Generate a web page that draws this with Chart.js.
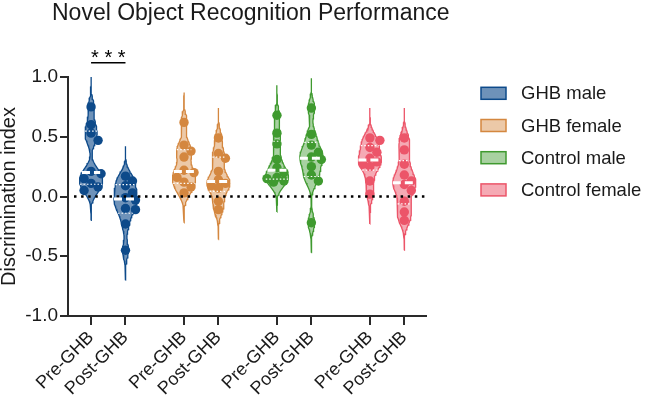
<!DOCTYPE html>
<html><head><meta charset="utf-8">
<script src="https://cdn.jsdelivr.net/npm/chart.js@4.4.1/dist/chart.umd.min.js"></script>
<style>html,body{margin:0;padding:0;background:#fff}</style>
</head><body>
<canvas id="c" width="645" height="400"></canvas>
<script>
// ---------- data ----------
const chartTitle = 'Novel Object Recognition Performance';
const yAxisTitle = 'Discrimination index';
const groups = ['GHB male', 'GHB female', 'Control male', 'Control female'];
const conditions = ['Pre-GHB', 'Post-GHB'];
const yTickValues = [-1.0, -0.5, 0.0, 0.5, 1.0];
const sigLabel = '* * *';

const ghbMalePre       = [0.75, 0.60, 0.53, 0.47, 0.21, 0.19, 0.15, 0.11, 0.08, 0.05];
const ghbMalePost      = [0.17, 0.13, 0.09, 0.03, -0.01, -0.03, -0.10, -0.11, -0.23, -0.45];
const ghbFemalePre     = [0.62, 0.43, 0.38, 0.33, 0.22, 0.20, 0.16, 0.12, 0.08, 0.03];
const ghbFemalePost    = [0.49, 0.36, 0.32, 0.21, 0.14, 0.11, 0.09, 0.07, -0.04, -0.11];
const controlMalePre   = [0.68, 0.53, 0.44, 0.31, 0.24, 0.20, 0.16, 0.15, 0.13, 0.12];
const controlMalePost  = [0.74, 0.52, 0.43, 0.37, 0.33, 0.31, 0.25, 0.18, 0.13, -0.22];
const controlFemalePre = [0.49, 0.47, 0.41, 0.37, 0.32, 0.29, 0.27, 0.25, 0.13, 0.02];
const controlFemalePost= [0.49, 0.39, 0.27, 0.18, 0.13, 0.10, 0.05, -0.04, -0.13, -0.20];

const seriesValues = [
  [ghbMalePre, ghbMalePost],
  [ghbFemalePre, ghbFemalePost],
  [controlMalePre, controlMalePost],
  [controlFemalePre, controlFemalePost]
];

// ---------- styles ----------
const FONT = "'Liberation Sans', Arial, sans-serif";
const strokeColors = ['#0D4A8A', '#D4873F', '#3F9A2F', '#EC5569'];
const fillColors = ['rgba(13,74,138,0.6)', 'rgba(212,135,63,0.45)', 'rgba(63,154,47,0.45)', 'rgba(236,85,105,0.5)'];
const AXIS = '#2a2a2a';
const TXT = '#1a1a1a';

// layout of categories on a linear x axis
const GROUP_STEP = 2.7, PAIR_STEP = 1.0;
const X_MIN = -0.67, X_MAX = 9.73;
const AREA = {left: 68, top: 77, right: 426, bottom: 316};
const PX_X = (AREA.right - AREA.left) / (X_MAX - X_MIN);
const PX_Y = (AREA.bottom - AREA.top) / 2;

const tickPositions = [];
const tickLabels = [];
groups.forEach((g, gi) => conditions.forEach((c, ci) => {
  tickPositions.push(gi * GROUP_STEP + ci * PAIR_STEP);
  tickLabels.push(c);
}));

// ---------- violin helpers ----------
const BW = 0.065, TAIL = 0.25, HALF_W_PX = 11.5;
function kde(vals, y) {
  let s = 0;
  for (const v of vals) { const z = (y - v) / BW; s += Math.exp(-0.5 * z * z); }
  return s;
}
function violinInfo(vals, cx) {
  const lo = Math.min(...vals) - TAIL, hi = Math.max(...vals) + TAIL;
  const N = 90, ys = [];
  for (let i = 0; i <= N; i++) ys.push(lo + (hi - lo) * i / N);
  const ds = ys.map(y => kde(vals, y));
  const mx = Math.max(...ds);
  const hw = HALF_W_PX / PX_X;
  const right = ys.map((y, i) => ({x: cx + ds[i] / mx * hw, y}));
  const left = ys.map((y, i) => ({x: cx - ds[i] / mx * hw, y})).reverse();
  const poly = right.concat(left);
  poly.push(right[0]);
  const widthAt = y => kde(vals, y) / mx * hw;
  return {poly, widthAt};
}
function quantile(vals, p) {
  const s = [...vals].sort((a, b) => a - b), n = s.length;
  const pos = p * (n + 1) - 1;
  const i = Math.max(0, Math.min(n - 1, Math.floor(pos)));
  const f = pos - Math.floor(pos);
  if (pos < 0) return s[0];
  if (i >= n - 1) return s[n - 1];
  return s[i] + f * (s[i + 1] - s[i]);
}
function swarm(vals, cx) {
  const R = 4.7, minD = 2 * R * 0.8;
  const offs = [0, 7, -7, 3.5, -3.5, 10, -10];
  const placed = [];
  const sorted = [...vals].sort((a, b) => b - a);
  const out = [];
  for (const v of sorted) {
    let best = 0, bestD = -1;
    for (const o of offs) {
      let dmin = Infinity;
      for (const p of placed) {
        const dx = o - p.o, dy = (v - p.v) * PX_Y;
        dmin = Math.min(dmin, Math.hypot(dx, dy));
      }
      if (dmin >= minD) { best = o; bestD = Infinity; break; }
      if (dmin > bestD) { bestD = dmin; best = o; }
    }
    placed.push({v, o: best});
    out.push({x: cx + best / PX_X, y: v});
  }
  return out;
}

// ---------- datasets ----------
const violinMeta = [];
const pointSets = [];
const violinSets = [];
seriesValues.forEach((pair, gi) => pair.forEach((vals, ci) => {
  const cx = gi * GROUP_STEP + ci * PAIR_STEP;
  const info = violinInfo(vals, cx);
  violinMeta.push({cx, vals, widthAt: info.widthAt,
    med: quantile(vals, 0.5), q1: quantile(vals, 0.25), q3: quantile(vals, 0.75)});
  violinSets.push({
    label: groups[gi] + ' ' + conditions[ci] + ' violin',
    data: info.poly, showLine: true, fill: 'shape', tension: 0,
    borderColor: strokeColors[gi], backgroundColor: fillColors[gi],
    borderWidth: 1.3, pointRadius: 0, order: 2
  });
  pointSets.push({
    label: groups[gi] + ' ' + conditions[ci],
    data: swarm(vals, cx), showLine: false,
    pointRadius: 4.7, pointBackgroundColor: strokeColors[gi],
    pointBorderColor: strokeColors[gi], pointBorderWidth: 0, order: 1
  });
}));

// ---------- custom drawing ----------
const overlay = {
  id: 'overlay',
  afterDatasetsDraw(chart) {
    const {ctx, scales: {x, y}, chartArea} = chart;
    ctx.save();
    // zero reference line
    ctx.strokeStyle = '#000';
    ctx.lineWidth = 2.5;
    ctx.setLineDash([2.5, 4.6]);
    const y0 = y.getPixelForValue(0);
    ctx.beginPath();
    ctx.moveTo(chartArea.left + 6, y0);
    ctx.lineTo(chartArea.right, y0);
    ctx.stroke();
    // median + quartiles
    ctx.strokeStyle = '#fff';
    violinMeta.forEach(m => {
      const draw = (v, lw, dash) => {
        const w = m.widthAt(v);
        ctx.lineWidth = lw; ctx.setLineDash(dash);
        ctx.beginPath();
        ctx.moveTo(x.getPixelForValue(m.cx - w), y.getPixelForValue(v));
        ctx.lineTo(x.getPixelForValue(m.cx + w), y.getPixelForValue(v));
        ctx.stroke();
      };
      draw(m.q1, 1.2, [1.5, 2]);
      draw(m.q3, 1.2, [1.5, 2]);
      draw(m.med, 3, [8, 4]);
    });
    ctx.restore();
  },
  afterDraw(chart) {
    const {ctx, scales: {x, y}} = chart;
    ctx.save();
    // title
    ctx.fillStyle = TXT;
    ctx.font = '23px ' + FONT;
    ctx.textAlign = 'left'; ctx.textBaseline = 'alphabetic';
    ctx.fillText(chartTitle, 52, 20);
    // significance bracket
    const xa = x.getPixelForValue(tickPositions[0]);
    const xb = x.getPixelForValue(tickPositions[1]);
    const ys = y.getPixelForValue(1.12);
    ctx.strokeStyle = '#000'; ctx.lineWidth = 1.5;
    ctx.beginPath(); ctx.moveTo(xa, ys); ctx.lineTo(xb, ys); ctx.stroke();
    ctx.fillStyle = '#000';
    ctx.font = '20px ' + FONT;
    ctx.textAlign = 'center';
    ctx.fillText(sigLabel, (xa + xb) / 2, ys + 1);
    // legend
    ctx.font = '18.5px ' + FONT;
    ctx.textAlign = 'left'; ctx.textBaseline = 'middle';
    groups.forEach((g, i) => {
      const cy = 93.3 + i * 32.2;
      ctx.fillStyle = '#fff';
      ctx.fillRect(481, cy - 6, 25, 12);
      ctx.fillStyle = fillColors[i];
      ctx.fillRect(481, cy - 6, 25, 12);
      ctx.strokeStyle = strokeColors[i]; ctx.lineWidth = 1.5;
      ctx.strokeRect(481, cy - 6, 25, 12);
      ctx.fillStyle = TXT;
      ctx.fillText(g, 521, cy + 1);
    });
    ctx.restore();
  }
};

new Chart(document.getElementById('c'), {
  type: 'line',
  data: {datasets: violinSets.concat(pointSets)},
  options: {
    responsive: false,
    animation: false,
    devicePixelRatio: 1,
    layout: {padding: {left: 0, right: 645 - AREA.right, top: AREA.top, bottom: 0}},
    plugins: {legend: {display: false}, tooltip: {enabled: false}, title: {display: false}},
    scales: {
      x: {
        type: 'linear', min: X_MIN, max: X_MAX,
        afterFit: s => { s.height = 400 - AREA.bottom; },
        afterBuildTicks: s => { s.ticks = tickPositions.map(v => ({value: v})); },
        grid: {drawOnChartArea: false, drawTicks: true, tickLength: 9, color: AXIS, lineWidth: 2},
        border: {display: true, color: AXIS, width: 2},
        ticks: {
          autoSkip: false, minRotation: 45, maxRotation: 45, padding: 2,
          color: TXT, font: {family: FONT, size: 18},
          callback: (v, i) => tickLabels[i]
        }
      },
      y: {
        type: 'linear', min: -1, max: 1,
        afterFit: s => { s.width = AREA.left; },
        afterBuildTicks: s => { s.ticks = yTickValues.map(v => ({value: v})); },
        grid: {drawOnChartArea: false, drawTicks: true, tickLength: 8, color: AXIS, lineWidth: 2},
        border: {display: true, color: AXIS, width: 2},
        ticks: {color: TXT, font: {family: FONT, size: 19}, padding: 2, callback: v => v.toFixed(1)},
        title: {display: true, text: yAxisTitle, color: TXT, font: {family: FONT, size: 20, lineHeight: 0.9}, padding: {top: 0, bottom: 0}}
      }
    }
  },
  plugins: [overlay]
});
</script>
</body></html>
